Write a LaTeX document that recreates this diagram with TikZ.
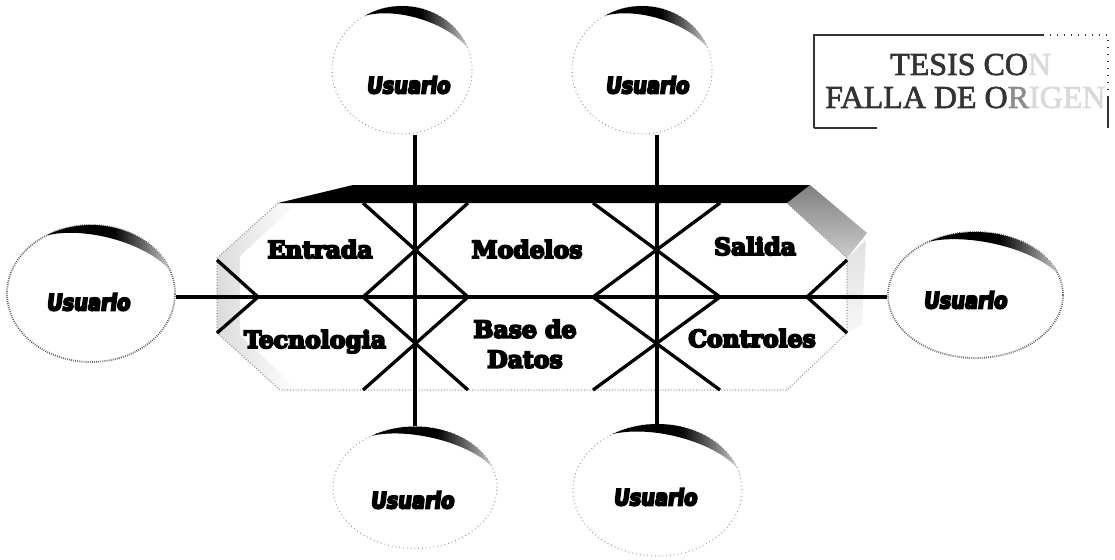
\documentclass[tikz,border=0pt]{standalone}
\usepackage{fontspec}
\usetikzlibrary{shapes.geometric,calc}

\newfontfamily\blockfont{DejaVu Serif Bold}[FakeBold=8]
\newfontfamily\userfont{DejaVu Sans Bold}[FakeBold=8,FakeSlant=0.12,FakeStretch=0.86]
\newfontfamily\stampfont{Liberation Serif}[FakeBold=2]

% black on the left, fading to grey on the right
\pgfdeclarehorizontalshading{crescentshade}{100bp}{%
  color(0bp)=(black); color(25bp)=(black); color(52bp)=(black);
  color(64bp)=(black!60); color(75bp)=(black!22); color(100bp)=(black!22)}

% dark crescent on the upper rim of a bubble: #1 node, #2 x radius, #3 y radius
\newcommand\rimcrescent[3]{%
  \shade[shading=crescentshade]
    ($(#1.center)+(238:#2 and #3)$)
    arc[start angle=238, end angle=340, x radius=#2, y radius=#3]
    .. controls ($(#1.center)+(310:0.985*#2 and 0.985*#3)$)
           and ($(#1.center)+(265:0.985*#2 and 0.985*#3)$)
    .. ($(#1.center)+(238:#2 and #3)$) -- cycle;}

\tikzset{
  conn/.style={line width=3.3pt, black},
  xline/.style={line width=3.3pt, black, line join=miter},
  faceedge/.style={black!40, line width=1.2pt, dash pattern=on 1pt off 1.8pt},
  bubble/.style={ellipse, inner sep=0pt, fill=white},
  bubblelight/.style={bubble, draw=black!45, line width=1pt, dash pattern=on 0.8pt off 3pt},
  bubbleheavy/.style={bubble, draw=black!60, line width=1.8pt, dash pattern=on 0.9pt off 1.2pt},
  usrlabel/.style={font=\userfont\fontsize{22.5}{22.5}\selectfont, inner sep=0pt},
  blocklabel/.style={font=\blockfont\fontsize{23.5}{30}\selectfont, align=center, inner sep=0pt},
  stampline/.style={black!80, line width=1.5pt},
  stamptext/.style={font=\stampfont\fontsize{32}{32}\selectfont, text=black!80, inner sep=0pt}
}

\begin{document}
\begin{tikzpicture}[x=1pt, y=-1pt]
\useasboundingbox (0,0) rectangle (1115,559);

% ---- central block ----
% right side face: darker corner on top, a faint strip below
\shade[top color=black!12, bottom color=black!3]
  (847,258) -- (866,240) -- (862,325) -- (847,333) -- cycle;
\shade[top color=black!50, bottom color=black!20]
  (787,203) -- (810,185) -- (867,233) -- (847,258) -- cycle;
% soft shading along the left edges of the front face
\shade[left color=black!14, right color=white]
  (217,258) -- (278,203) -- (298,203) -- (240,256) -- (240,335) -- (298,390) -- (280,390) -- (217,333) -- cycle;
% front face outline
\draw[faceedge] (278,203) -- (217,258) -- (217,333) -- (280,390) -- (787,390)
  -- (847,333) -- (847,258) -- (787,203);
% top bar
\fill[black] (278,203) -- (353,185) -- (810,185) -- (787,203) -- cycle;

% crossing struts
\draw[xline] (363,203) -- (468,297) -- (363,390);
\draw[xline] (468,203) -- (363,297) -- (468,390);
\draw[xline] (593,203) -- (720,297) -- (593,390);
\draw[xline] (720,203) -- (593,297) -- (720,390);
\draw[xline] (217,260) -- (258,297) -- (217,333);
\draw[xline] (847,260) -- (807,297) -- (847,333);

% block labels
\node[blocklabel, anchor=base] (entrada) at (320,258) {Entrada};
\node[blocklabel, anchor=base] (tecno) at (315,348) {Tecnologia};
\node[blocklabel, anchor=base] (modelos) at (527,258) {Modelos};
\node[blocklabel] (bd) at (525,344) {Base de\\Datos};
\node[blocklabel, anchor=base] (salida) at (755,255) {Salida};
\node[blocklabel, anchor=base] (ctrl) at (752,347) {Controles};

% ---- user bubbles ----
\node[bubblelight, minimum width=140, minimum height=128] (uTL) at (402,70) {};
\node[bubblelight, minimum width=140, minimum height=128] (uTR) at (642,70) {};
\node[bubbleheavy, minimum width=168, minimum height=137] (uL) at (91,293.5) {};
\node[bubbleheavy, minimum width=175, minimum height=126] (uR) at (975.5,295) {};
\node[bubblelight, minimum width=164, minimum height=122] (uBL) at (415,487.5) {};
\node[bubblelight, minimum width=169, minimum height=132] (uBR) at (657.5,490) {};

\rimcrescent{uTL}{70}{64}
\rimcrescent{uTR}{70}{64}
\rimcrescent{uL}{84}{68.5}
\rimcrescent{uR}{87.5}{63}
\rimcrescent{uBL}{82}{61}
\rimcrescent{uBR}{84.5}{66}

\node[usrlabel] (tTL) at (408,85) {Usuario};
\node[usrlabel] (tTR) at (647,85) {Usuario};
\node[usrlabel] (tL) at (88,302) {Usuario};
\node[usrlabel] (tR) at (965,300) {Usuario};
\node[usrlabel] (tBL) at (412,500) {Usuario};
\node[usrlabel] (tBR) at (655,497) {Usuario};

% ---- connectors ----
\coordinate (hl) at (0,297);
\coordinate (vl) at (415,0);
\coordinate (vr) at (657,0);
\draw[conn] (uL.east |- hl) -- (uR.west |- hl);
\draw[conn] (uTL.south -| vl) -- (uBL.north -| vl);
\draw[conn] (uTR.south -| vr) -- (uBR.north -| vr);

% ---- stamp ----
\draw[stampline] (814,128) -- (814,35) -- (1043,35);
\draw[stampline, dash pattern=on 1pt off 6pt] (1043,35) -- (1108,35) -- (1108,97);
\draw[stampline] (1108,97) -- (1108,128);
\draw[stampline] (814,128) -- (877,128);
\node[stamptext, anchor=base west] (stampA) at (890,75) {TESIS CO\textcolor{black!15}{N}};
\node[stamptext, anchor=base west] (stampB) at (825,108) {FALLA DE O\textcolor{black!45}{R}\textcolor{black!15}{IGEN}};
\end{tikzpicture}
\end{document}
